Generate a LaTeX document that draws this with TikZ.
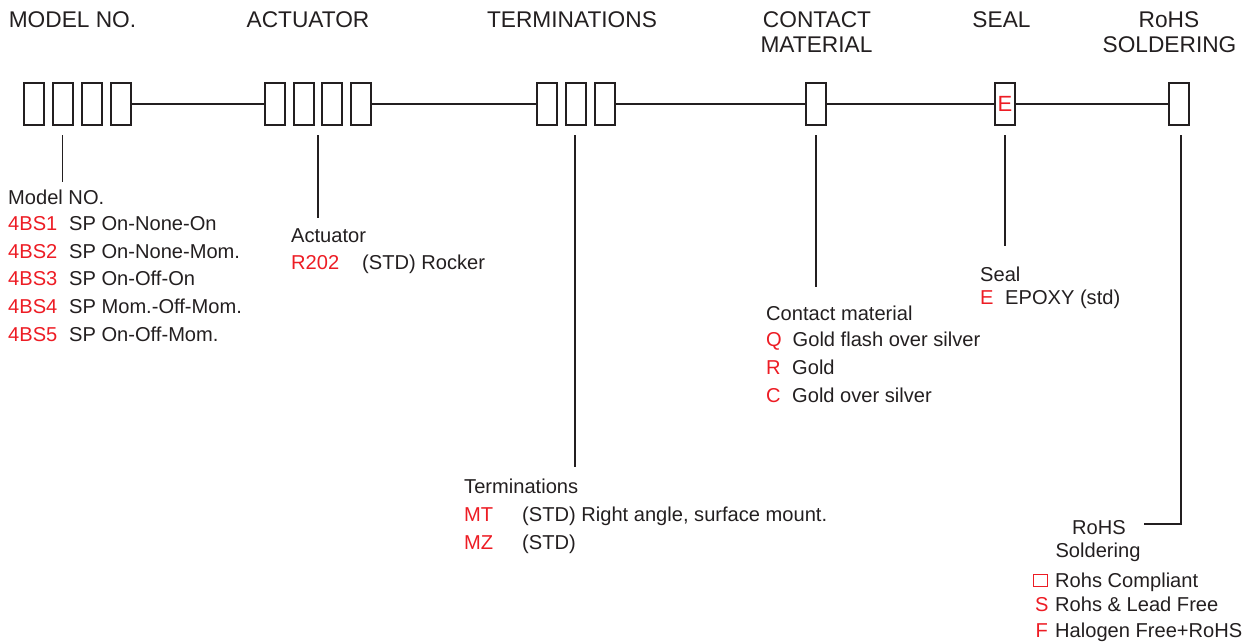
\documentclass[tikz,border=0pt]{standalone}
\usepackage{fontspec}
\setmainfont{Liberation Sans}
\definecolor{ink}{HTML}{231F20}
\definecolor{redc}{HTML}{ED1C24}
\tikzset{
  slot/.style={draw=ink, line width=2pt, rectangle, minimum width=20pt, minimum height=42pt, inner sep=0pt, outer sep=0pt},
  conn/.style={draw=ink, line width=1.8pt},
  head/.style={anchor=base, inner sep=0pt, text=ink, font=\fontsize{22.7}{25}\selectfont},
  body/.style={anchor=base west, inner sep=0pt, text=ink, font=\fontsize{20.1}{23}\selectfont},
  bodyc/.style={anchor=base, inner sep=0pt, text=ink, font=\fontsize{20.1}{23}\selectfont},
  code/.style={body, text=redc},
}
\begin{document}
\begin{tikzpicture}[x=1pt, y=-1pt]
\useasboundingbox (0,0) rectangle (1248,642);

% headers
\node[head] (hmodel) at (72.5,28) {MODEL NO.};
\node[head] (hact) at (308,28) {ACTUATOR};
\node[head] (hterm) at (572,28) {TERMINATIONS};
\node[head] (hcont1) at (817,28) {CONTACT};
\node[head] (hcont2) at (816.5,53) {MATERIAL};
\node[head] (hseal) at (1001.5,28) {SEAL};
\node[head] (hrohs1) at (1169,28) {RoHS};
\node[head] (hrohs2) at (1169.5,53) {SOLDERING};

% boxes
\node[slot] (m1) at (34,104) {};
\node[slot] (m2) at (63,104) {};
\node[slot] (m3) at (92,104) {};
\node[slot] (m4) at (120.5,104) {};
\node[slot] (a1) at (275,104) {};
\node[slot] (a2) at (303.5,104) {};
\node[slot] (a3) at (332,104) {};
\node[slot] (a4) at (360.5,104) {};
\node[slot] (t1) at (547,104) {};
\node[slot] (t2) at (575.5,104) {};
\node[slot] (t3) at (605,104) {};
\node[slot] (c1) at (816,104) {};
\node[slot] (s1) at (1005,104) {\textcolor{redc}{\fontsize{22}{25}\selectfont E}};
\node[slot] (r1) at (1179,104) {};

% horizontal connectors
\draw[conn] (m4.east) -- (a1.west);
\draw[conn] (a4.east) -- (t1.west);
\draw[conn] (t3.east) -- (c1.west);
\draw[conn] (c1.east) -- (s1.west);
\draw[conn] (s1.east) -- (r1.west);

% vertical leaders
\coordinate (mtop) at (62.5,135);
\coordinate (mend) at (62.5,182);
\coordinate (atop) at (318,135);
\coordinate (aend) at (318,218);
\coordinate (ttop) at (575,135);
\coordinate (tend) at (575,467);
\coordinate (ctop) at (816,135);
\coordinate (cend) at (816,287);
\coordinate (stop) at (1005,135);
\coordinate (send) at (1005,246);
\coordinate (rtop) at (1181,135);
\coordinate (rcorner) at (1181,524);
\coordinate (rend) at (1144,524);
\draw[conn] (mtop) -- (mend);
\draw[conn] (atop) -- (aend);
\draw[conn] (ttop) -- (tend);
\draw[conn] (ctop) -- (cend);
\draw[conn] (stop) -- (send);
\draw[conn] (rtop) -- (rcorner) -- (rend);

% model no.
\node[body] (mlab) at (8,204) {Model NO.};
\node[code] (mc1) at (8,230) {4BS1};
\node[code] (mc2) at (8,258) {4BS2};
\node[code] (mc3) at (8,285) {4BS3};
\node[code] (mc4) at (8,313) {4BS4};
\node[code] (mc5) at (8,341) {4BS5};
\node[body] (md1) at (69,230) {SP On-None-On};
\node[body] (md2) at (69,258) {SP On-None-Mom.};
\node[body] (md3) at (69,285) {SP On-Off-On};
\node[body] (md4) at (69,313) {SP Mom.-Off-Mom.};
\node[body] (md5) at (69,341) {SP On-Off-Mom.};

% actuator
\node[body] (alab) at (291,242) {Actuator};
\node[code] (ac1) at (291,269) {R202};
\node[body] (ad1) at (362,269) {(STD) Rocker};

% terminations
\node[body] (tlab) at (464,493) {Terminations};
\node[code] (tc1) at (464,521) {MT};
\node[code] (tc2) at (464,549) {MZ};
\node[body] (td1) at (522,521) {(STD) Right angle, surface mount.};
\node[body] (td2) at (522,549) {(STD)};

% contact material
\node[body] (clab) at (766,320) {Contact material};
\node[code] (cc1) at (766,346) {Q};
\node[code] (cc2) at (766,374) {R};
\node[code] (cc3) at (766,402) {C};
\node[body] (cd1) at (792.5,346) {Gold flash over silver};
\node[body] (cd2) at (792,374) {Gold};
\node[body] (cd3) at (792,402) {Gold over silver};

% seal
\node[body] (slab) at (980,281) {Seal};
\node[code] (sc1) at (980,304) {E};
\node[body] (sd1) at (1005,304) {EPOXY (std)};

% rohs
\node[bodyc] (rlab1) at (1099,534) {RoHS};
\node[bodyc] (rlab2) at (1098,557) {Soldering};
\node[draw=redc, line width=1.2pt, rectangle, minimum width=14pt, minimum height=12pt, inner sep=0pt] (rsq) at (1040.5,580.5) {};
\node[body] (rd1) at (1055,587) {Rohs Compliant};
\node[code] (rc2) at (1035,611) {S};
\node[body] (rd2) at (1055,611) {Rohs \& Lead Free};
\node[code] (rc3) at (1035.5,637) {F};
\node[body] (rd3) at (1055,637) {Halogen Free+RoHS};
\end{tikzpicture}
\end{document}
